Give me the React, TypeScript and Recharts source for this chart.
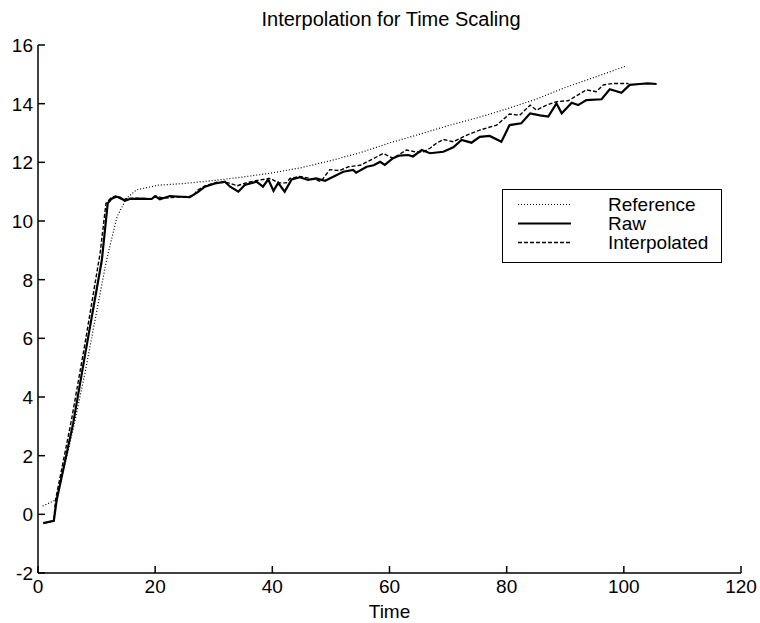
import React from 'react';
import { LineChart, Line, XAxis, YAxis, Legend } from 'recharts';

const refT = [0.8, 3.1, 4, 6, 8, 10, 11.7, 13.5, 15.1, 16.8, 20.5, 25, 30, 35, 40, 45, 50, 55, 60, 65, 70, 75, 80, 85, 90, 95, 100.2];
const refV = [0.28, 0.5, 1.2, 2.9, 4.8, 6.9, 8.67, 10.15, 10.77, 11.06, 11.22, 11.28, 11.38, 11.5, 11.64, 11.82, 12.06, 12.33, 12.66, 12.95, 13.25, 13.52, 13.82, 14.15, 14.55, 14.9, 15.27];

const rawT = [0.9, 2.7, 3.2, 6.0, 8.0, 10.9, 11.9, 12.5, 13.3, 14.0, 14.8, 15.7, 17, 19.4, 20, 20.8, 22.5, 25.9, 27.4, 28.5, 30.2, 31.9, 32.8, 34.2, 35.3, 37.3, 38.4, 39.3, 40.2, 41.0, 42.1, 43.3, 44.7, 46.1, 47.5, 49.0, 50.4, 52.1, 53.8, 54.3, 56.1, 57.3, 58.4, 59.2, 60.6, 61.7, 63.2, 64.0, 65.5, 66.9, 69.2, 70.9, 72.3, 74.0, 75.4, 77.1, 79.1, 80.5, 82.5, 84.0, 85.7, 87.1, 88.5, 89.4, 91.1, 92.2, 93.6, 96.2, 97.6, 99.6, 101.0, 102.7, 104.1, 105.6];
const rawV = [-0.3, -0.22, 0.5, 3.1, 5.4, 8.67, 10.6, 10.75, 10.83, 10.8, 10.69, 10.75, 10.76, 10.75, 10.85, 10.74, 10.85, 10.81, 11.0, 11.17, 11.28, 11.34, 11.17, 11.0, 11.23, 11.34, 11.17, 11.42, 11.03, 11.3, 11.0, 11.42, 11.49, 11.4, 11.45, 11.37, 11.51, 11.68, 11.74, 11.65, 11.85, 11.9, 12.02, 11.91, 12.14, 12.23, 12.25, 12.2, 12.42, 12.31, 12.36, 12.51, 12.76, 12.67, 12.87, 12.9, 12.7, 13.27, 13.33, 13.67, 13.6, 13.56, 14.01, 13.67, 14.03, 13.95, 14.12, 14.15, 14.49, 14.37, 14.64, 14.67, 14.69, 14.67];

const intT = [0.9, 2.7, 3.0, 5.7, 8.0, 10.6, 11.6, 12.4, 13.2, 14.5, 15.5, 19.4, 20.2, 21.5, 24, 26.5, 27.1, 28.5, 30.5, 32.5, 34, 35.5, 37.9, 39.7, 41, 42.4, 43, 44.7, 46.5, 48.3, 49.8, 51.5, 53, 55, 57, 58.9, 60.6, 62.9, 64.5, 65.8, 66.9, 68, 69.2, 70.9, 73.2, 75.4, 78.3, 80.5, 82.2, 84.0, 85.1, 86.8, 88.6, 90.5, 92.2, 93.6, 95.3, 96.5, 98.2, 100.8];
const intV = [-0.3, -0.22, 0.5, 3.2, 5.8, 8.9, 10.6, 10.78, 10.85, 10.72, 10.78, 10.76, 10.84, 10.78, 10.82, 10.85, 11.03, 11.2, 11.32, 11.3, 11.2, 11.3, 11.4, 11.45, 11.3, 11.3, 11.45, 11.52, 11.45, 11.35, 11.75, 11.72, 11.85, 11.9, 12.1, 12.3, 12.14, 12.42, 12.35, 12.36, 12.48, 12.65, 12.78, 12.7, 12.93, 13.1, 13.27, 13.65, 13.6, 13.95, 13.78, 13.95, 14.07, 14.1, 14.3, 14.47, 14.41, 14.64, 14.69, 14.69];

const xTicks = [0, 20, 40, 60, 80, 100, 120];
const yTicks = [-2, 0, 2, 4, 6, 8, 10, 12, 14, 16];

const refData = refT.map((t, i) => ({ t, v: refV[i] }));
const rawData = rawT.map((t, i) => ({ t, v: rawV[i] }));
const intData = intT.map((t, i) => ({ t, v: intV[i] }));

const FONT = '"Liberation Sans", Arial, sans-serif';
const FS = 19;
const TL = 7;

const XTickBottom = (p: any) => (
  <g>
    <line x1={p.x} y1={p.y} x2={p.x} y2={p.y - TL} stroke="#000" strokeWidth={1.5} />
    <text x={p.x} y={p.y + 20} textAnchor="middle" fontFamily={FONT} fontSize={FS} fill="#000">{p.payload.value}</text>
  </g>
);
const XTickTop = (p: any) => (
  <line x1={p.x} y1={p.y} x2={p.x} y2={p.y + TL} stroke="#000" strokeWidth={1.5} />
);
const YTickLeft = (p: any) => (
  <g>
    <line x1={p.x} y1={p.y} x2={p.x + TL} y2={p.y} stroke="#000" strokeWidth={1.5} />
    <text x={p.x - 5} y={p.y} dy="0.36em" textAnchor="end" fontFamily={FONT} fontSize={FS} fill="#000">{p.payload.value}</text>
  </g>
);
const YTickRight = (p: any) => (
  <line x1={p.x} y1={p.y} x2={p.x - TL} y2={p.y} stroke="#000" strokeWidth={1.5} />
);

const legendItems = [
  { name: 'Reference', dash: '1 2', w: 1.2 },
  { name: 'Raw', dash: undefined, w: 2.2 },
  { name: 'Interpolated', dash: '4 2', w: 1.4 },
];

const renderLegend = () => (
  <div style={{ width: 220, height: 74, border: '1.5px solid #000', background: '#fff', boxSizing: 'border-box', paddingTop: 5, fontFamily: FONT, fontSize: FS, color: '#000' }}>
    {legendItems.map((it) => (
      <div key={it.name} style={{ display: 'flex', alignItems: 'center', height: 19 }}>
        <svg width={105} height={19} style={{ display: 'block', flex: 'none' }}>
          <line x1={15} x2={68} y1={9.5} y2={9.5} stroke="#000" strokeWidth={it.w} strokeDasharray={it.dash} />
        </svg>
        <span style={{ lineHeight: '19px', whiteSpace: 'nowrap' }}>{it.name}</span>
      </div>
    ))}
  </div>
);

export default function App() {
  return (
    <div style={{ position: 'absolute', left: 0, top: 0, width: 760, height: 623, background: '#fff' }}>
      <div style={{ position: 'absolute', left: 0, width: 782, top: 8, textAlign: 'center', fontFamily: FONT, fontSize: 20, color: '#000' }}>
        Interpolation for Time Scaling
      </div>
      <LineChart width={760} height={623} margin={{ top: 45, right: 19, bottom: 0, left: 0 }}>
        <XAxis xAxisId="b" dataKey="t" type="number" domain={[0, 120]} ticks={xTicks} height={50}
          axisLine={{ stroke: '#000', strokeWidth: 1.5 }} tickLine={false} tickSize={0} tickMargin={0}
          tick={XTickBottom} interval={0} allowDuplicatedCategory={false}
          label={{ value: 'Time', position: 'insideBottom', offset: 5, fontFamily: FONT, fontSize: FS, fill: '#000' }} />
        <XAxis xAxisId="t" orientation="top" dataKey="t" type="number" domain={[0, 120]} ticks={xTicks} height={0}
          axisLine={{ stroke: '#000', strokeWidth: 1.5 }} tickLine={false} tickSize={0} tickMargin={0}
          tick={XTickTop} interval={0} />
        <YAxis yAxisId="l" type="number" domain={[-2, 16]} ticks={yTicks} width={38}
          axisLine={{ stroke: '#000', strokeWidth: 1.5 }} tickLine={false} tickSize={0} tickMargin={0}
          tick={YTickLeft} interval={0} />
        <YAxis yAxisId="r" orientation="right" type="number" domain={[-2, 16]} ticks={yTicks} width={0}
          axisLine={{ stroke: '#000', strokeWidth: 1.5 }} tickLine={false} tickSize={0} tickMargin={0}
          tick={YTickRight} interval={0} />
        <Legend content={renderLegend} layout="vertical" align="center" verticalAlign="middle"
          wrapperStyle={{ left: 502, top: 189, width: 220 }} />
        <Line xAxisId="b" yAxisId="l" data={refData} dataKey="v" name="Reference" stroke="#000" strokeWidth={1.2}
          strokeDasharray="1 2" dot={false} isAnimationActive={false} />
        <Line xAxisId="b" yAxisId="l" data={rawData} dataKey="v" name="Raw" stroke="#000" strokeWidth={2.2}
          dot={false} isAnimationActive={false} />
        <Line xAxisId="b" yAxisId="l" data={intData} dataKey="v" name="Interpolated" stroke="#000" strokeWidth={1.4}
          strokeDasharray="4 2" dot={false} isAnimationActive={false} />
      </LineChart>
    </div>
  );
}
